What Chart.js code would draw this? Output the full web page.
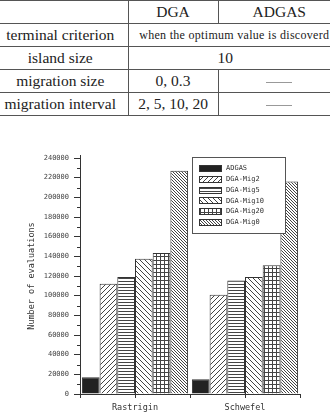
<!DOCTYPE html>
<html>
<head>
<meta charset="utf-8">
<script src="https://cdn.jsdelivr.net/npm/chart.js@4/dist/chart.umd.min.js"></script>
<style>
  html, body { margin: 0; padding: 0; background: #fff; }
  body { width: 330px; height: 418px; overflow: hidden; position: relative; }
  .tw { position: absolute; left: 0; top: 0; width: 330px; height: 120px; overflow: hidden; }
  table { border-collapse: collapse; table-layout: fixed; width: 340px;
          font-family: "Liberation Serif", serif; font-size: 15.5px; letter-spacing: 0; color: #222; }
  td { padding: 0; height: 22px; text-align: center; vertical-align: middle; white-space: nowrap;
       border-bottom: 1px solid #555; }
  tr:first-child td { border-top: 1px solid #555; }
  td.l { padding-right: 7px; border-right: 1px solid #555; }
  td.m { border-right: 1px solid #555; }
  td.small { font-size: 12px; letter-spacing: 0.3px; overflow: visible; }
  td.ten { padding-right: 18px; }
  .dash { display: inline-block; width: 26px; border-top: 1px solid #999; vertical-align: middle; }
  #c { position: absolute; left: 0; top: 140px; }
</style>
</head>
<body>
<div class="tw">
<table>
  <colgroup><col style="width:128px"><col style="width:90px"><col style="width:122px"></colgroup>
  <tr><td class="l"></td><td class="m">DGA</td><td>ADGAS</td></tr>
  <tr><td class="l">terminal criterion</td><td colspan="2" class="small">when the optimum value is discoverd</td></tr>
  <tr><td class="l">island size</td><td colspan="2" class="ten">10</td></tr>
  <tr><td class="l">migration size</td><td class="m">0, 0.3</td><td><span class="dash"></span></td></tr>
  <tr><td class="l">migration interval</td><td class="m">2, 5, 10, 20</td><td><span class="dash"></span></td></tr>
</table>
</div>
<canvas id="c" width="330" height="278"></canvas>
<script>
// data
const categories = ["Rastrigin", "Schwefel"];
const seriesNames = ["ADGAS", "DGA-Mig2", "DGA-Mig5", "DGA-Mig10", "DGA-Mig20", "DGA-Mig0"];
const adgas    = [17000, 15000];
const dgaMig2  = [112000, 101000];
const dgaMig5  = [119000, 115500];
const dgaMig10 = [137500, 119000];
const dgaMig20 = [143500, 131000];
const dgaMig0  = [227000, 216000];
const yMax = 240000;
const yStep = 20000;

const canvas = document.getElementById("c");
const ctx = canvas.getContext("2d");
const ink = "#333";

// small tiles for the hatch fills
function tile(size, draw) {
  const c = document.createElement("canvas");
  c.width = c.height = size;
  const g = c.getContext("2d");
  g.fillStyle = "#fff";
  g.fillRect(0, 0, size, size);
  g.strokeStyle = "#444";
  g.fillStyle = "#444";
  g.lineWidth = 1;
  draw(g, size);
  return ctx.createPattern(c, "repeat");
}
function slash(g, s) {
  g.beginPath();
  g.moveTo(-1, s + 1); g.lineTo(s + 1, -1);
  g.moveTo(-1, 1); g.lineTo(1, -1);
  g.moveTo(s - 1, s + 1); g.lineTo(s + 1, s - 1);
  g.stroke();
}
function backslash(g, s) {
  g.beginPath();
  g.moveTo(-1, -1); g.lineTo(s + 1, s + 1);
  g.moveTo(s - 1, -1); g.lineTo(s + 1, 1);
  g.moveTo(-1, s - 1); g.lineTo(1, s + 1);
  g.stroke();
}

const fills = [
  "#222",
  tile(5, slash),
  tile(3, (g, s) => g.fillRect(0, 0, s, 1)),
  tile(5, backslash),
  tile(4, (g, s) => { g.fillRect(0, 0, s, 1); g.fillRect(0, 0, 1, s); }),
  tile(3, backslash)
];
const values = [adgas, dgaMig2, dgaMig5, dgaMig10, dgaMig20, dgaMig0];

// minor ticks, centre ticks and the boxed legend
const extras = {
  id: "extras",
  afterDraw(chart) {
    const c = chart.ctx;
    const y = chart.scales.y, x = chart.scales.x;
    const area = chart.chartArea;
    c.save();
    c.strokeStyle = ink;
    c.lineWidth = 1;
    c.beginPath();
    for (let v = yStep / 2; v < yMax; v += yStep) {
      const py = Math.round(y.getPixelForValue(v)) + 0.5;
      c.moveTo(area.left - 3, py); c.lineTo(area.left, py);
    }
    c.moveTo(area.left + 0.5, area.top); c.lineTo(area.left + 0.5, area.top - 3);
    categories.forEach((_, i) => {
      const px = Math.round(x.getPixelForValue(i)) + 0.5;
      c.moveTo(px, area.bottom - 3); c.lineTo(px, area.bottom + 4);
    });
    c.stroke();

    // legend box
    const bx = area.left + 112, by = area.top - 1, bw = 93, bh = 76;
    c.fillStyle = "#fff";
    c.fillRect(bx, by, bw, bh);
    c.strokeStyle = "#555";
    c.strokeRect(bx + 0.5, by + 0.5, bw, bh);
    c.font = "7px 'DejaVu Sans Mono'";
    c.textBaseline = "middle";
    chart.data.datasets.forEach((ds, i) => {
      const cy = by + 11.5 + i * 10.75;
      c.fillStyle = ds.backgroundColor;
      c.fillRect(bx + 7, Math.round(cy - 3.5), 23, 7);
      c.strokeStyle = ink;
      c.strokeRect(bx + 7.5, Math.round(cy - 3.5) + 0.5, 22, 6);
      c.fillStyle = ink;
      c.fillText(ds.label, bx + 34, cy);
    });
    c.restore();
  }
};

new Chart(ctx, {
  type: "bar",
  data: {
    labels: categories,
    datasets: seriesNames.map((name, i) => ({
      label: name,
      data: values[i],
      backgroundColor: fills[i],
      borderColor: ink,
      borderWidth: 1,
      barPercentage: 1,
      categoryPercentage: 0.965
    }))
  },
  options: {
    responsive: false,
    devicePixelRatio: 1,
    animation: false,
    layout: { padding: { left: 0, right: 30, top: 18, bottom: 0 } },
    plugins: { legend: { display: false }, tooltip: { enabled: false } },
    scales: {
      x: {
        afterFit: s => { s.height = 24; },
        grid: { offset: true, drawOnChartArea: false, tickLength: 4, color: ink },
        border: { color: ink, width: 1 },
        ticks: { font: { family: "DejaVu Sans Mono", size: 8.5 }, color: ink, padding: 5 }
      },
      y: {
        min: 0,
        max: yMax,
        afterFit: s => { s.width = 80; },
        grid: { drawOnChartArea: false, tickLength: 6, color: ink },
        border: { color: ink, width: 1 },
        ticks: {
          stepSize: yStep,
          callback: v => String(v),
          font: { family: "DejaVu Sans Mono", size: 7 },
          color: "#444",
          padding: 5
        },
        title: {
          display: true,
          text: "Number of evaluations",
          font: { family: "DejaVu Sans Mono", size: 8.5 },
          color: ink,
          padding: { top: 27, bottom: 0 }
        }
      }
    }
  },
  plugins: [extras]
});
</script>
</body>
</html>
